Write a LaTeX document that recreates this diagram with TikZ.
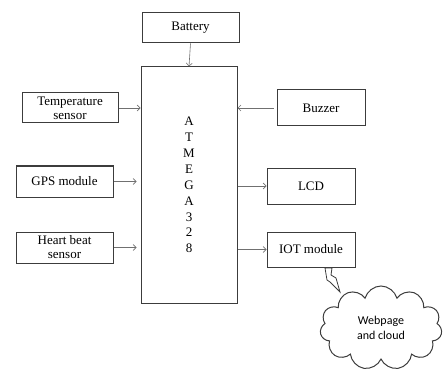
\documentclass[tikz,border=0pt]{standalone}
\usepackage{fontspec}
\usepackage{tikz}
\usetikzlibrary{shapes.symbols,arrows.meta}
\setmainfont{Liberation Serif}
\newfontfamily\cloudfont{Carlito}
\definecolor{BoxGray}{HTML}{3C3C3C}
\definecolor{WireGray}{HTML}{707070}

\begin{document}
\begin{tikzpicture}[x=1pt,y=-1pt, every node/.style={font=\fontsize{13}{14}\selectfont},
  blockbox/.style={draw=BoxGray, line width=1pt, inner sep=0pt, align=center},
  wire/.style={draw=WireGray, line width=0.6pt, -{Straight Barb[length=3pt,width=6pt]}}]
  \useasboundingbox (0,0) rectangle (443,371);
  \node[blockbox, minimum width=97, minimum height=30] (batt) at (190.5,28) {Battery};
  \node[blockbox, minimum width=96, minimum height=236,
    font=\fontsize{13}{15.9}\selectfont] (mcu) at (189,185) {A\\T\\M\\E\\G\\A\\3\\2\\8};
  \node[blockbox, minimum width=96, minimum height=30,
    font=\fontsize{13}{14}\selectfont] (temp) at (70,108) {Temperature\\sensor};
  \node[blockbox, minimum width=97, minimum height=31] (gps) at (64.5,181.5) {GPS module};
  \node[blockbox, minimum width=97, minimum height=31] (heart) at (64.5,247.5) {Heart beat\\sensor};
  \node[blockbox, minimum width=88, minimum height=36] (buzz) at (321,108) {Buzzer};
  \node[blockbox, minimum width=88, minimum height=36] (lcd) at (311,186) {LCD};
  \node[blockbox, minimum width=88, minimum height=35] (iot) at (311,249.5) {IOT module};
  \node[cloud, draw=BoxGray, line width=1pt, cloud puffs=11, aspect=1.45,
    minimum width=122, minimum height=84, align=center,
    font=\cloudfont\fontsize{12}{15}\selectfont] (web) at (381,328) {Webpage\\and cloud};
  % connections
  \draw[wire] (batt.south) -- (mcu.north);
  \draw[wire] (temp.east) -- (temp.east -| mcu.west);
  \draw[wire, shorten >=4pt] (gps.east) -- (gps.east -| mcu.west);
  \draw[wire, shorten >=4pt] (heart.east) -- (heart.east -| mcu.west);
  \draw[wire, shorten <=3pt] (buzz.west) -- (buzz.west -| mcu.east);
  \draw[wire] (lcd.west -| mcu.east) -- (lcd.west);
  \draw[wire] (iot.west -| mcu.east) -- (iot.west);
  % bolt
  \draw[BoxGray, line width=0.8pt, line join=miter, fill=white]
    (325,268) -- (332,268) -- (331,275) -- (336,278) -- (340,292)
    -- (330,282) -- (327,280) -- cycle;
\end{tikzpicture}
\end{document}
